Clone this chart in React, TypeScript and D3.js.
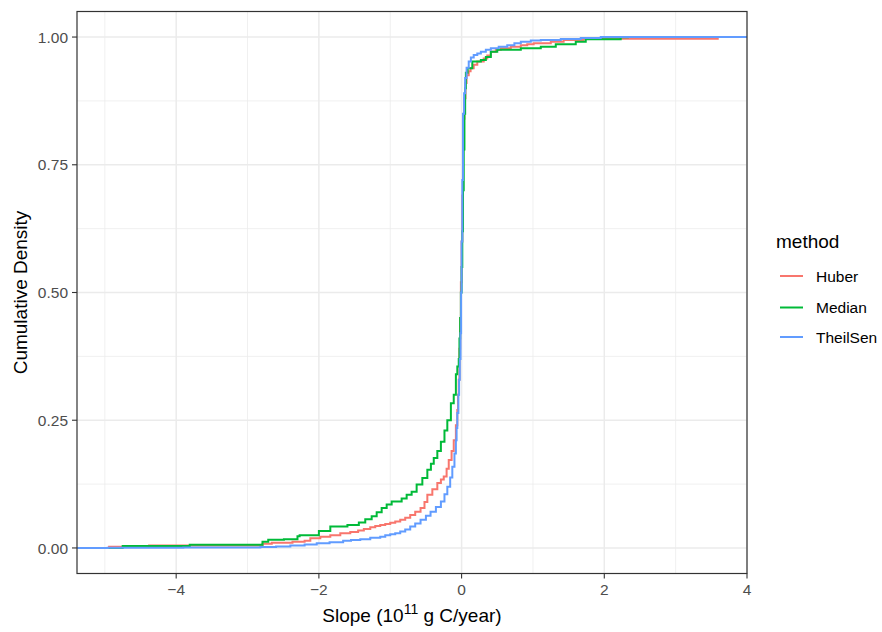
import React, { useEffect, useRef } from "react";
import * as d3 from "d3";

// ---- data (ECDF breakpoints) ----
const methods = ["Huber", "Median", "TheilSen"];
const colors = ["#F8766D", "#00BA38", "#619CFF"];

const huberX = [-4.94, -4.38, -2.79, -2.66, -2.37, -2.2, -2.12, -1.98, -1.84, -1.7, -1.56, -1.45, -1.37, -1.28, -1.21, -1.14, -1.07, -1.0, -0.93, -0.86, -0.79, -0.72, -0.65, -0.575, -0.52, -0.48, -0.41, -0.34, -0.29, -0.25, -0.21, -0.18, -0.14, -0.11, -0.08, -0.06, -0.05, -0.04, -0.03, -0.02, -0.01, 0.0, 0.01, 0.02, 0.03, 0.04, 0.055, 0.07, 0.1, 0.126, 0.17, 0.22, 0.31, 0.36, 0.41, 0.48, 0.55, 0.69, 0.83, 0.92, 1.01, 1.25, 1.43, 1.71, 3.59];
const huberY = [0.0025, 0.005, 0.008, 0.010, 0.012, 0.014, 0.019, 0.022, 0.025, 0.029, 0.031, 0.034, 0.037, 0.0405, 0.043, 0.045, 0.047, 0.0495, 0.052, 0.055, 0.059, 0.0646, 0.071, 0.078, 0.09, 0.104, 0.115, 0.127, 0.134, 0.14, 0.155, 0.172, 0.19, 0.211, 0.24, 0.27, 0.3, 0.329, 0.39, 0.45, 0.52, 0.6, 0.69, 0.78, 0.84, 0.88, 0.91, 0.925, 0.933, 0.939, 0.946, 0.952, 0.958, 0.964, 0.971, 0.975, 0.978, 0.981, 0.984, 0.986, 0.988, 0.991, 0.994, 0.9966, 1.0];

const medianX = [-4.75, -3.81, -2.79, -2.71, -2.49, -2.3, -2.27, -2.0, -1.84, -1.6, -1.44, -1.35, -1.26, -1.19, -1.12, -1.05, -0.98, -0.84, -0.77, -0.7, -0.63, -0.55, -0.48, -0.43, -0.39, -0.34, -0.29, -0.24, -0.2, -0.15, -0.11, -0.08, -0.06, -0.04, -0.03, -0.02, -0.01, 0.0, 0.01, 0.02, 0.03, 0.04, 0.05, 0.06, 0.084, 0.15, 0.27, 0.34, 0.41, 0.5, 0.83, 1.11, 1.32, 1.6, 1.74, 2.23, 2.33];
const medianY = [0.004, 0.0065, 0.012, 0.016, 0.017, 0.023, 0.025, 0.033, 0.042, 0.045, 0.05, 0.056, 0.062, 0.07, 0.078, 0.085, 0.091, 0.097, 0.104, 0.11, 0.124, 0.137, 0.153, 0.165, 0.176, 0.19, 0.208, 0.23, 0.25, 0.283, 0.3, 0.34, 0.355, 0.37, 0.41, 0.45, 0.5, 0.55, 0.62, 0.7, 0.78, 0.85, 0.9, 0.93, 0.939, 0.952, 0.955, 0.961, 0.971, 0.975, 0.978, 0.981, 0.986, 0.991, 0.9955, 0.9994, 1.0];

const theilX = [-4.96, -3.9, -2.82, -2.6, -2.4, -2.2, -2.03, -1.85, -1.66, -1.55, -1.42, -1.28, -1.14, -1.07, -1.0, -0.93, -0.86, -0.79, -0.72, -0.65, -0.575, -0.5, -0.435, -0.36, -0.29, -0.24, -0.2, -0.16, -0.13, -0.1, -0.08, -0.07, -0.06, -0.045, -0.035, -0.025, -0.015, -0.007, 0.0, 0.01, 0.02, 0.035, 0.05, 0.07, 0.1, 0.13, 0.17, 0.22, 0.27, 0.34, 0.41, 0.52, 0.64, 0.74, 0.83, 0.97, 1.11, 1.39, 1.67, 1.95];
const theilY = [0.0005, 0.001, 0.002, 0.003, 0.005, 0.007, 0.009, 0.011, 0.014, 0.0155, 0.017, 0.02, 0.022, 0.025, 0.027, 0.029, 0.032, 0.036, 0.042, 0.048, 0.055, 0.063, 0.071, 0.08, 0.091, 0.105, 0.12, 0.138, 0.159, 0.185, 0.211, 0.235, 0.264, 0.3, 0.329, 0.37, 0.42, 0.5, 0.6, 0.72, 0.85, 0.89, 0.92, 0.94, 0.952, 0.96, 0.965, 0.968, 0.971, 0.975, 0.978, 0.981, 0.984, 0.988, 0.991, 0.993, 0.994, 0.996, 0.998, 1.0];

const seriesX = [huberX, medianX, theilX];
const seriesY = [huberY, medianY, theilY];

const xTicks = [-4, -2, 0, 2, 4];
const xMinor = [-5, -3, -1, 1, 3];
const yTicks = [0, 0.25, 0.5, 0.75, 1];
const yMinor = [0.125, 0.375, 0.625, 0.875];
const yTickLabels = ["0.00", "0.25", "0.50", "0.75", "1.00"];

const W = 882;
const H = 632;
const FONT = "'Liberation Sans', Arial, Helvetica, sans-serif";

export default function App() {
  const ref = useRef<SVGSVGElement | null>(null);

  useEffect(() => {
    const svg = d3.select(ref.current);
    svg.selectAll("*").remove();

    const left = 77, right = 747, top = 11.5, bottom = 573.5;
    const x = d3.scaleLinear().domain([-5.39, 4.0]).range([left, right]);
    const y = d3.scaleLinear().domain([-0.05, 1.05]).range([bottom, top]);

    svg.append("rect").attr("width", W).attr("height", H).attr("fill", "white");

    svg.append("defs").append("clipPath").attr("id", "panel-clip")
      .append("rect").attr("x", left).attr("y", top)
      .attr("width", right - left).attr("height", bottom - top);

    const g = svg.append("g");
    // minor grid
    g.selectAll(".xminor").data(xMinor).enter().append("line")
      .attr("x1", d => x(d)).attr("x2", d => x(d)).attr("y1", top).attr("y2", bottom)
      .attr("stroke", "#EBEBEB").attr("stroke-width", 0.75);
    g.selectAll(".yminor").data(yMinor).enter().append("line")
      .attr("y1", d => y(d)).attr("y2", d => y(d)).attr("x1", left).attr("x2", right)
      .attr("stroke", "#EBEBEB").attr("stroke-width", 0.75);
    // major grid
    g.selectAll(".xmajor").data(xTicks).enter().append("line")
      .attr("x1", d => x(d)).attr("x2", d => x(d)).attr("y1", top).attr("y2", bottom)
      .attr("stroke", "#EBEBEB").attr("stroke-width", 1.5);
    g.selectAll(".ymajor").data(yTicks).enter().append("line")
      .attr("y1", d => y(d)).attr("y2", d => y(d)).attr("x1", left).attr("x2", right)
      .attr("stroke", "#EBEBEB").attr("stroke-width", 1.5);

    // ECDF lines
    const line = d3.line<[number, number]>()
      .x(d => x(d[0])).y(d => y(d[1])).curve(d3.curveStepAfter);
    const lines = svg.append("g").attr("clip-path", "url(#panel-clip)");
    methods.forEach((m, i) => {
      const pts: [number, number][] = [[-10, 0]];
      seriesX[i].forEach((xv, j) => pts.push([xv, seriesY[i][j]]));
      pts.push([10, 1]);
      lines.append("path").attr("d", line(pts) as string)
        .attr("fill", "none").attr("stroke", colors[i]).attr("stroke-width", 2);
    });

    // panel border
    svg.append("rect").attr("x", left).attr("y", top)
      .attr("width", right - left).attr("height", bottom - top)
      .attr("fill", "none").attr("stroke", "#333333").attr("stroke-width", 1.2);

    // axes ticks
    const ax = svg.append("g");
    xTicks.forEach(t => {
      ax.append("line").attr("x1", x(t)).attr("x2", x(t)).attr("y1", bottom).attr("y2", bottom + 5)
        .attr("stroke", "#333333").attr("stroke-width", 1.1);
      ax.append("text").attr("x", x(t)).attr("y", bottom + 21)
        .attr("text-anchor", "middle").attr("font-family", FONT).attr("font-size", 15.5)
        .attr("fill", "#4D4D4D").text(t < 0 ? "\u2212" + Math.abs(t) : String(t));
    });
    yTicks.forEach((t, i) => {
      ax.append("line").attr("x1", left - 5).attr("x2", left).attr("y1", y(t)).attr("y2", y(t))
        .attr("stroke", "#333333").attr("stroke-width", 1.1);
      ax.append("text").attr("x", left - 9).attr("y", y(t)).attr("dy", "0.36em")
        .attr("text-anchor", "end").attr("font-family", FONT).attr("font-size", 15.5)
        .attr("fill", "#4D4D4D").text(yTickLabels[i]);
    });

    // axis titles
    const xt = svg.append("text").attr("x", (left + right) / 2).attr("y", 622)
      .attr("text-anchor", "middle").attr("font-family", FONT).attr("font-size", 19).attr("fill", "black");
    xt.append("tspan").text("Slope (10");
    xt.append("tspan").attr("font-size", 14).attr("dy", -8).text("11");
    xt.append("tspan").attr("dy", 8).text(" g C/year)");

    svg.append("text").attr("transform", `translate(27, ${(top + bottom) / 2}) rotate(-90)`)
      .attr("text-anchor", "middle").attr("font-family", FONT).attr("font-size", 19)
      .attr("fill", "black").text("Cumulative Density");

    // legend
    const lg = svg.append("g");
    lg.append("text").attr("x", 776).attr("y", 248).attr("font-family", FONT)
      .attr("font-size", 19).attr("fill", "black").text("method");
    const keyY = [276, 307.5, 337];
    methods.forEach((m, i) => {
      lg.append("line").attr("x1", 780).attr("x2", 803).attr("y1", keyY[i]).attr("y2", keyY[i])
        .attr("stroke", colors[i]).attr("stroke-width", 2);
      lg.append("text").attr("x", 816).attr("y", keyY[i]).attr("dy", "0.36em")
        .attr("font-family", FONT).attr("font-size", 15.5).attr("fill", "black").text(m);
    });
  }, []);

  return (
    <svg ref={ref} width={W} height={H} style={{ position: "absolute", left: 0, top: 0 }} />
  );
}
